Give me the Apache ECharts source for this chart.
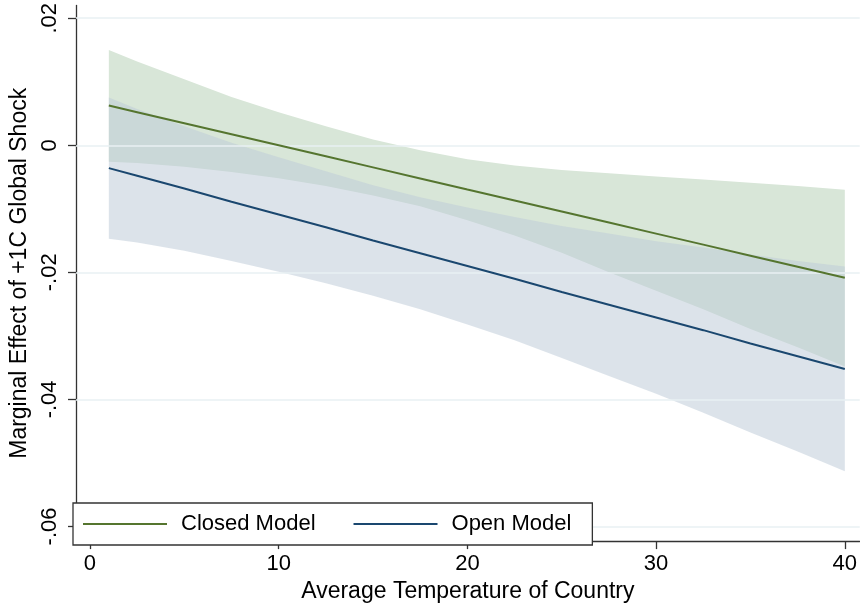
<!DOCTYPE html>
<html>
<head>
<meta charset="utf-8">
<script src="https://cdn.jsdelivr.net/npm/echarts@6/dist/echarts.min.js"></script>
<style>
  html, body { margin: 0; padding: 0; background: #fff; }
  #chart { width: 860px; height: 608px; }
</style>
</head>
<body>
<div id="chart"></div>
<script>
// ---- data ----
const xs = [1, 2.5, 5, 7.5, 10, 12.5, 15, 17.5, 20, 22.5, 25, 27.5, 30, 32.5, 35, 37.5, 40];
const closedFit   = [0.00625, 0.00521, 0.00347, 0.00173, 0.0000, -0.00174, -0.00348, -0.00522, -0.00696,
                     -0.00869, -0.01043, -0.01217, -0.01391, -0.01564, -0.01738, -0.01912, -0.02086];
const closedUpper = [0.0150, 0.0132, 0.0104, 0.0076, 0.0052, 0.0030, 0.0009, -0.0008, -0.0022,
                     -0.0032, -0.0039, -0.0044, -0.0049, -0.0054, -0.0059, -0.0064, -0.0070];
const closedLower = [-0.0026, -0.0028, -0.0034, -0.0042, -0.0052, -0.0064, -0.0079, -0.0096, -0.0118,
                     -0.0142, -0.0169, -0.0200, -0.0229, -0.0258, -0.0289, -0.0318, -0.0348];
const openFit     = [-0.0036, -0.0048, -0.0068, -0.0089, -0.0109, -0.0129, -0.0150, -0.0170, -0.0190,
                     -0.0210, -0.0231, -0.0251, -0.0271, -0.0291, -0.0312, -0.0332, -0.0352];
const openUpper   = [0.0075, 0.0057, 0.0030, 0.0004, -0.0019, -0.0041, -0.0063, -0.0082, -0.0098,
                     -0.0113, -0.0127, -0.0139, -0.0151, -0.0161, -0.0172, -0.0182, -0.0191];
const openLower   = [-0.0147, -0.0153, -0.0166, -0.0182, -0.0199, -0.0217, -0.0237, -0.0258, -0.0282,
                     -0.0307, -0.0335, -0.0363, -0.0391, -0.0421, -0.0452, -0.0482, -0.0513];

const xTicks = [0, 10, 20, 30, 40];
const yTicks = [-0.06, -0.04, -0.02, 0, 0.02];
const yTickLabels = ['-.06', '-.04', '-.02', '0', '.02'];

const seriesNames = ['Closed Model', 'Open Model'];
const xTitle = 'Average Temperature of Country';
const yTitle = 'Marginal Effect of +1C Global Shock';

// ---- build ----
const pairs = (ys) => xs.map((x, i) => [x, ys[i]]);
const bandRows = (lo, hi) => xs.map((x, i) => [x, lo[i], hi[i]]);

const FONT = 'Liberation Sans, Arial, sans-serif';
const chart = echarts.init(document.getElementById('chart'), null, { renderer: 'canvas' });

function bandSeries(name, rows, fill, z) {
  return {
    name: name, type: 'custom', silent: true, z: z,
    coordinateSystem: 'cartesian2d',
    encode: { x: 0, y: [1, 2] },
    data: rows,
    renderItem: function (params, api) {
      if (params.dataIndex !== 0) return null;
      const top = rows.map(r => api.coord([r[0], r[2]]));
      const bot = rows.map(r => api.coord([r[0], r[1]])).reverse();
      return {
        type: 'polygon',
        shape: { points: top.concat(bot) },
        style: { fill: fill, stroke: null }
      };
    }
  };
}

chart.setOption({
  animation: false,
  backgroundColor: '#fff',
  textStyle: { fontFamily: FONT },
  grid: { left: 73, right: 0, top: 5, bottom: 63, containLabel: false },
  xAxis: {
    type: 'value', min: -0.74, max: 40.79,
    axisLine: { show: true, onZero: false, lineStyle: { color: '#333', width: 1.3 } },
    axisTick: { show: true, length: 8, inside: false, customValues: xTicks, lineStyle: { color: '#333', width: 1.3 } },
    axisLabel: { customValues: xTicks, fontSize: 22, color: '#000', margin: 12, fontFamily: FONT },
    splitLine: { show: false },
    name: xTitle, nameLocation: 'middle', nameGap: 36,
    nameTextStyle: { fontSize: 23, color: '#000', fontFamily: FONT }
  },
  yAxis: {
    type: 'value', min: -0.0623, max: 0.0220,
    axisLine: { show: true, onZero: false, lineStyle: { color: '#333', width: 1.3 } },
    axisTick: { show: true, length: 8, inside: false, customValues: yTicks, lineStyle: { color: '#333', width: 1.3 } },
    axisLabel: {
      customValues: yTicks, rotate: 90, fontSize: 22, color: '#000', margin: 15, fontFamily: FONT,
      formatter: (v) => {
        let best = 0;
        yTicks.forEach((t, i) => { if (Math.abs(t - v) < Math.abs(yTicks[best] - v)) best = i; });
        return yTickLabels[best];
      }
    },
    splitLine: { show: false },
    name: yTitle, nameLocation: 'middle', nameGap: 45,
    nameTextStyle: { fontSize: 23, color: '#000', fontFamily: FONT }
  },
  legend: {
    data: seriesNames,
    left: 73, top: 503, z: 20,
    orient: 'horizontal',
    padding: [10, 21, 10, 10],
    itemWidth: 84, itemHeight: 2,
    itemGap: 38,
    icon: 'rect',
    backgroundColor: '#fff',
    borderColor: '#333', borderWidth: 1.3,
    selectedMode: false,
    textStyle: { fontSize: 22, color: '#000', fontFamily: FONT, lineHeight: 22,
                 padding: [0, 0, 0, 9], verticalAlign: 'middle' }
  },
  series: [
    {
      name: 'grid', type: 'line', data: [], silent: true, z: 0,
      markLine: {
        silent: true, symbol: 'none', label: { show: false },
        lineStyle: { color: '#e9f1f3', width: 1.5, type: 'solid' },
        data: yTicks.map(t => ({ yAxis: t }))
      }
    },
    bandSeries('closedCI', bandRows(closedLower, closedUpper), 'rgb(216,230,216)', 1),
    bandSeries('openCI', bandRows(openLower, openUpper), 'rgba(190,203,216,0.54)', 2),
    {
      name: seriesNames[0], type: 'line', showSymbol: false, symbol: 'none', z: 5,
      itemStyle: { color: '#55752f' },
      lineStyle: { color: '#55752f', width: 2 },
      data: pairs(closedFit)
    },
    {
      name: seriesNames[1], type: 'line', showSymbol: false, symbol: 'none', z: 5,
      itemStyle: { color: '#1a476f' },
      lineStyle: { color: '#1a476f', width: 2 },
      data: pairs(openFit)
    }
  ]
});
</script>
</body>
</html>
